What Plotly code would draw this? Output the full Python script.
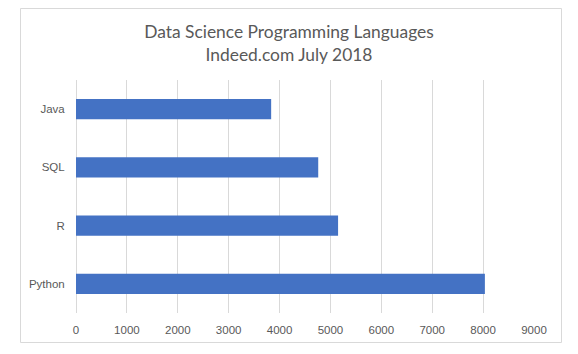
import plotly.graph_objects as go

languages = ["Python", "R", "SQL", "Java"]
job_counts = [8035, 5150, 4760, 3835]
x_ticks = [0, 1000, 2000, 3000, 4000, 5000, 6000, 7000, 8000, 9000]
title_lines = ["Data Science Programming Languages", "Indeed.com July 2018"]

W, H = 578, 354
L, R, T, B = 76, 44, 80, 41
pw, ph = W - L - R, H - T - B

def px_x(p):
    return (p - L) / pw

def px_y(p):
    return 1 - (p - T) / ph

fig = go.Figure(go.Bar(
    y=languages, x=job_counts, orientation="h",
    marker=dict(color="#4472C4", line=dict(width=0)),
))

fig.update_layout(
    width=W, height=H,
    margin=dict(l=L, r=R, t=T, b=B, pad=0),
    paper_bgcolor="white", plot_bgcolor="white",
    showlegend=False,
    bargap=0.65,
    title=dict(
        text="<br>".join(title_lines),
        x=0.5, xref="container", xanchor="center",
        y=1 - 38 / H, yref="container", yanchor="top",
        font=dict(family="Lato, Open Sans, sans-serif", size=17.4, color="#595959"),
    ),
    xaxis=dict(
        range=[0, 9000], tickvals=x_ticks, ticktext=[str(v) for v in x_ticks],
        showgrid=True, gridcolor="#d9d9d9", gridwidth=1,
        zeroline=True, zerolinecolor="#d9d9d9", zerolinewidth=1,
        showline=False, ticks="outside", ticklen=6, tickcolor="rgba(0,0,0,0)",
        tickfont=dict(family="Liberation Sans, Arial, sans-serif", size=11.5, color="#595959"),
        fixedrange=True,
    ),
    yaxis=dict(
        categoryorder="array", categoryarray=languages,
        showgrid=False, zeroline=False, showline=False,
        ticks="outside", ticklen=8, tickcolor="rgba(0,0,0,0)",
        tickfont=dict(family="Liberation Sans, Arial, sans-serif", size=11.5, color="#595959"),
        fixedrange=True,
    ),
    shapes=[dict(
        type="rect", xref="paper", yref="paper",
        x0=px_x(20.5), x1=px_x(561.5), y0=px_y(342.5), y1=px_y(8.5),
        line=dict(color="#d9d9d9", width=1), fillcolor="rgba(0,0,0,0)", layer="below",
    )],
)

fig.write_html("out.html", config={"displayModeBar": False})
